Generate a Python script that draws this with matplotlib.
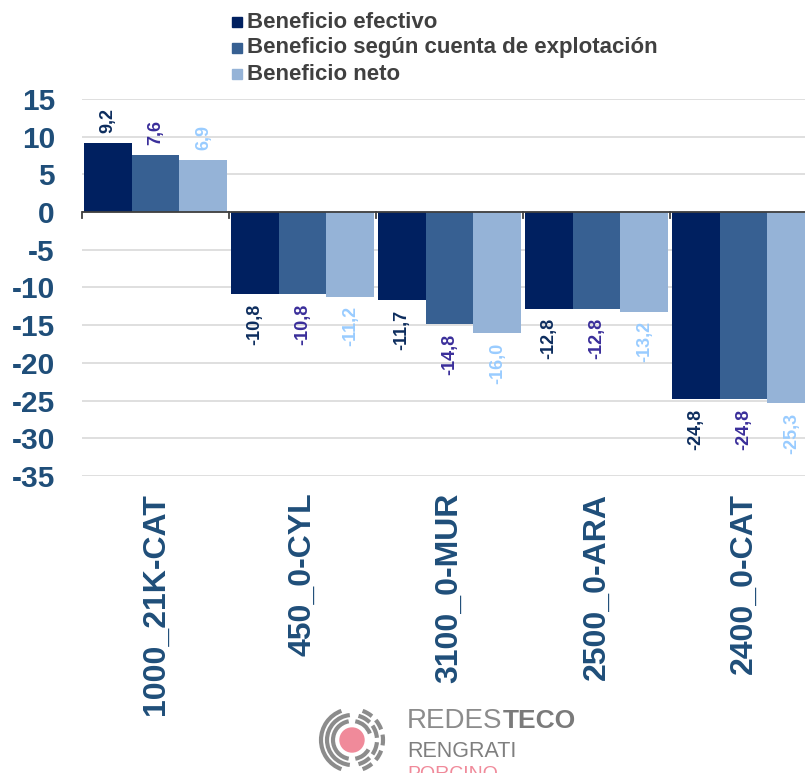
import matplotlib
matplotlib.use("Agg")

import numpy as np
import matplotlib.pyplot as plt
from matplotlib.patches import Rectangle, Circle, Arc

plt.rcParams["font.family"] = ["Liberation Sans", "DejaVu Sans"]

# data
categories = ["1000_21K-CAT", "450_0-CYL", "3100_0-MUR", "2500_0-ARA", "2400_0-CAT"]
series_names = ["Beneficio efectivo",
                "Beneficio según cuenta de explotación",
                "Beneficio neto"]
efectivo = [9.2, -10.8, -11.7, -12.8, -24.8]
cuenta = [7.6, -10.8, -14.8, -12.8, -24.8]
neto = [6.9, -11.2, -16.0, -13.2, -25.3]
y_ticks = list(range(-35, 16, 5))

bar_colors = ["#002060", "#376092", "#95B3D7"]
label_colors = ["#0D2D5E", "#3A2E9A", "#99CCFF"]
axis_blue = "#1F4E79"

W, H = 805, 773
fig = plt.figure(figsize=(W / 100, H / 100), dpi=100)
ax = fig.add_axes([82 / W, 1 - 476 / H, 735 / W, 377 / H])

x = np.arange(len(categories))
w = 0.3265
for k, vals in enumerate([efectivo, cuenta, neto]):
    xs = x + (k - 1) * w
    ax.bar(xs, vals, width=w, color=bar_colors[k], zorder=3)
    for xi, v in zip(xs, vals):
        txt = f"{v:.1f}".replace(".", ",")
        off = 7 if v >= 0 else -7
        ax.annotate(txt, (xi, v), xytext=(0, off), textcoords="offset points",
                    rotation=90, ha="center", va="bottom" if v >= 0 else "top",
                    fontsize=13, fontweight="bold", color=label_colors[k], zorder=4)

ax.set_xlim(-0.5, len(categories) - 0.5)
ax.set_ylim(-35, 15)
ax.set_yticks(y_ticks)
ax.set_yticklabels([str(t) for t in y_ticks])
ax.yaxis.grid(True, color="#D9D9D9", linewidth=1.2, zorder=0)
ax.set_axisbelow(True)
for s in ax.spines.values():
    s.set_visible(False)

ax.set_xticks(x)
ax.set_xticklabels(categories, rotation=90)
ax.tick_params(axis="x", length=0, pad=12, labelsize=23, labelcolor=axis_blue)
ax.tick_params(axis="y", length=0, pad=19.5, labelsize=21.5, labelcolor=axis_blue)
for lab in ax.get_xticklabels() + ax.get_yticklabels():
    lab.set_fontweight("bold")

# zero axis with category tick marks
ax.axhline(0, color="#404040", linewidth=1.3, zorder=5)
for b in np.arange(-0.5, len(categories), 1.0):
    ax.plot([b, b], [0, -0.8], color="#404040", linewidth=1.3, zorder=5,
            clip_on=False)

# legend
for k, name in enumerate(series_names):
    yc = 22 + 26 * k
    fig.patches.append(Rectangle((232 / W, 1 - (yc + 5) / H), 10 / W, 10 / H,
                                 transform=fig.transFigure, color=bar_colors[k]))
    fig.text(247 / W, 1 - yc / H, name, fontsize=16, fontweight="bold",
             color="#404040", va="center", ha="left")

# logo
lax = fig.add_axes([300 / W, 0, 100 / W, 80 / H])
lax.set_xlim(0, 100)
lax.set_ylim(0, 80)
lax.axis("off")
cx, cy = 52, 33
lax.add_patch(Circle((cx, cy), 12, color="#F08A9A"))
grey = "#8C8C8C"
arcs = [(19, [(100, 260), (280, 330), (20, 80)]),
        (25, [(95, 265), (285, 315), (325, 355), (5, 35), (45, 75)]),
        (31, [(110, 250), (290, 310), (320, 340), (350, 10), (20, 40), (50, 70)])]
for r, segs in arcs:
    for t1, t2 in segs:
        lax.add_patch(Arc((cx, cy), 2 * r, 2 * r, theta1=t1, theta2=t2,
                          color=grey, linewidth=3))

r = fig.canvas.get_renderer()
t1 = fig.text(407 / W, 1 - 728 / H, "REDES", fontsize=20, color="#8C8C8C",
              va="baseline")
bb = t1.get_window_extent(r)
fig.text(bb.x1 / W, 1 - 728 / H, "TECO", fontsize=19, color="#7A7A7A",
         fontweight="bold", va="baseline")
fig.text(407 / W, 1 - 757 / H, "RENGRATI", fontsize=15.5,
         color="#7F7F7F", va="baseline")
fig.text(407 / W, 1 - 779 / H, "PORCINO", fontsize=14,
         color="#F08A9A", va="baseline")

fig.savefig("out.png", dpi=100)
